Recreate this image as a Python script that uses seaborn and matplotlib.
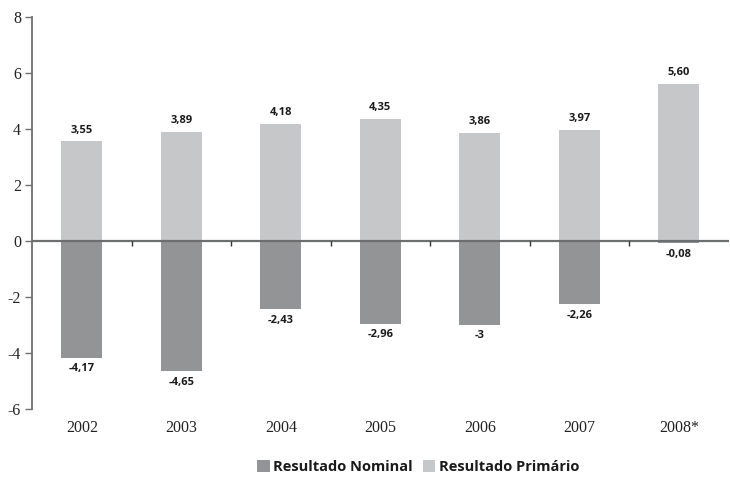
import matplotlib
matplotlib.use("Agg")
import matplotlib.pyplot as plt
import seaborn as sns
import pandas as pd
from matplotlib.patches import Patch

anos = ["2002", "2003", "2004", "2005", "2006", "2007", "2008*"]
resultado_primario = [3.55, 3.89, 4.18, 4.35, 3.86, 3.97, 5.60]
resultado_nominal = [-4.17, -4.65, -2.43, -2.96, -3.00, -2.26, -0.08]
series = ["Resultado Nominal", "Resultado Primário"]
cores = {"Resultado Nominal": "#939497", "Resultado Primário": "#c6c7c9"}
y_ticks = [-6, -4, -2, 0, 2, 4, 6, 8]

df = pd.DataFrame({
    "ano": anos * 2,
    "serie": ["Resultado Primário"] * len(anos) + ["Resultado Nominal"] * len(anos),
    "valor": resultado_primario + resultado_nominal,
})

sns.set_style("white")
fig = plt.figure(figsize=(7.3, 4.8), dpi=100)
ax = fig.add_axes([0.044, 0.148, 0.954, 0.817])

sns.barplot(data=df, x="ano", y="valor", hue="serie", hue_order=series,
            order=anos, palette=cores, dodge=False, width=0.41,
            errorbar=None, legend=False, ax=ax, linewidth=0)

eixo = "#6d6e70"
ax.set_xlim(-0.5, len(anos) - 0.5)
ax.set_ylim(-6, 8)
ax.set_yticks(y_ticks)
ax.set_yticklabels([str(t) for t in y_ticks])
ax.set_xlabel("")
ax.set_ylabel("")

for lado in ["top", "right", "bottom"]:
    ax.spines[lado].set_visible(False)
ax.spines["left"].set_color(eixo)
ax.spines["left"].set_linewidth(1.3)

ax.tick_params(axis="y", which="major", left=True, length=5, width=1.0,
               color=eixo, pad=3, labelsize=11.5, labelcolor="#222222")
ax.tick_params(axis="x", which="major", bottom=False, length=0, pad=8,
               labelsize=11.5, labelcolor="#222222")
for lbl in ax.get_xticklabels() + ax.get_yticklabels():
    lbl.set_fontfamily("Liberation Serif")

# zero line with small separators between years
ax.axhline(0, color=eixo, linewidth=1.6, zorder=3)
sep = [i + 0.5 for i in range(len(anos) - 1)]
ax.vlines(sep, -0.18, 0, color="#333333", linewidth=1.0, zorder=3)


def rotulo(v):
    if abs(v - round(v)) < 1e-9:
        return f"{int(round(v))}"
    return f"{v:.2f}".replace(".", ",")


for cont in ax.containers:
    labels = [rotulo(b.get_height()) for b in cont]
    ax.bar_label(cont, labels=labels, padding=4, fontsize=8,
                 fontweight="bold", fontfamily="Open Sans", color="#1a1a1a")

handles = [Patch(facecolor=cores[s], edgecolor="none") for s in series]
leg = fig.legend(handles, series, loc="center", bbox_to_anchor=(0.573, 0.027),
                 ncol=2, frameon=False, handlelength=0.85, handleheight=0.85,
                 handletextpad=0.25, columnspacing=0.7,
                 prop={"family": "Open Sans", "weight": "bold", "size": 10.5})
for t in leg.get_texts():
    t.set_color("#1a1a1a")

fig.savefig("out.png", dpi=100)
